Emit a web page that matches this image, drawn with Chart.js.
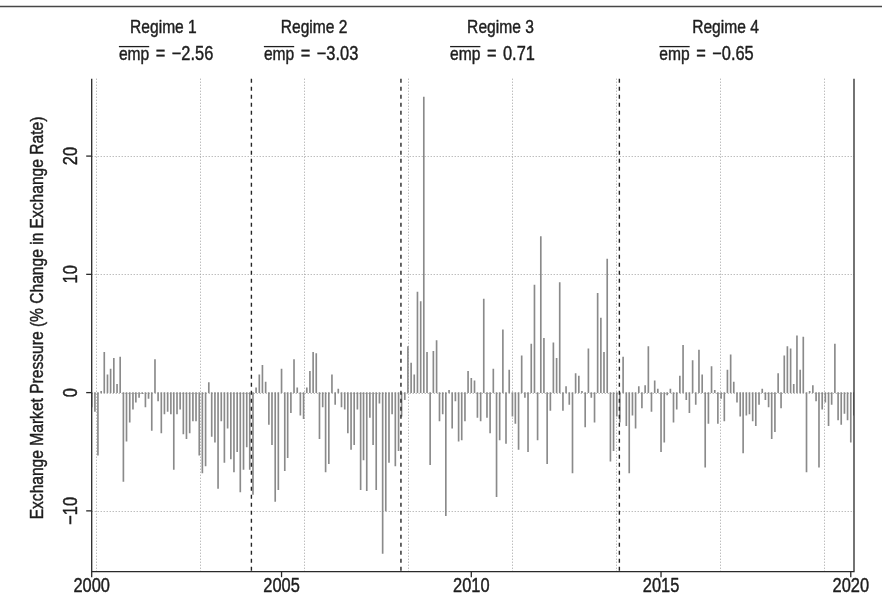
<!DOCTYPE html>
<html>
<head>
<meta charset="utf-8">
<title>Exchange Market Pressure</title>
<script src="https://cdn.jsdelivr.net/npm/chart.js@4.4.1/dist/chart.umd.min.js"></script>
<style>
  html, body { margin: 0; padding: 0; background: #ffffff; }
  canvas { display: block; }
</style>
</head>
<body>
<canvas id="emp" width="882" height="613"></canvas>
<script>
// ---- data -------------------------------------------------------------
// Monthly exchange market pressure (% change in exchange rate), Jan 2000 onward.
const firstMonth = [2000, 0];            // year, zero-based month

// Regime 1: Jan 2000 – Mar 2004
const empRegime1 = [
  -1.2, -1.6, -5.3, 0.1, 3.4, 1.5, 2.0, 2.9, 0.7, 3.0, -7.5,
  -4.1, -2.5, -1.4, -0.8, -0.4, -0.1, -1.2, -0.5, -3.2, 2.8,
  -0.7, -3.4, -1.8, -1.6, -1.8, -6.5, -1.8, -1.4, -3.5, -3.9,
  -3.4, -2.4, -2.4, -5.3, -6.8, -6.2, 0.85, -3.7, -4.2, -8.1,
  -2.4, -5.9, -3.0, -5.6, -6.7, -5.0, -8.4, -6.5, -4.6, -6.5
];
// Regime 2: Apr 2004 – Feb 2008
const empRegime2 = [
  -8.6, 0.4, 1.5, 2.3, 0.9, -2.7, -4.4, -9.2, -8.2, 2.0,
  -6.6, -5.5, -1.7, 2.8, 0.4, -1.9, -2.2, 0.4, 1.8, 3.4,
  3.3, -3.9, -1.2, -6.7, -6.0, 1.5, -1.0, 0.3, -1.2, -1.4,
  -3.4, -4.8, -4.4, -1.4, -8.2, -5.7, -8.3, -2.1, -4.4, -8.2,
  -0.9, -13.6, -10.0, -5.9, -1.8, -6.2, -4.9
];
// Regime 3: Mar 2008 – Nov 2013
const empRegime3 = [
  -2.0, -0.6, 3.9, 2.5, 1.5, 8.5, 7.7, 25.0, 3.4, -6.1,
  3.5, 4.4, -2.4, -1.8, -10.4, 0.2, -3.0, -0.7, -4.1, -4.0,
  -2.4, 1.8, 1.2, 1.0, -2.1, -2.4, 7.9, -2.1, -3.4, 2.0,
  -8.8, -4.0, 5.3, -4.3, 1.9, -2.0, -2.6, -4.8, 3.1, -0.4,
  -5.0, 4.1, 9.1, -4.0, 13.2, 4.6, -6.0, -1.5, 4.2, 2.9,
  9.3, -1.5, 0.5, -1.0, -6.8, 1.6, 1.4, 0.1, -2.9, 3.7,
  -0.4, -2.5, 8.4, 6.3, 3.4, 11.3, -5.8, -4.9, -2.0
];
// Regime 4: Dec 2013 – Feb 2020
const empRegime4 = [
  -2.5, 3.0, -2.8, -6.8, -1.9, -3.0, 0.5, -1.3, 0.6, 3.9,
  -1.6, 1.0, 0.3, -5.0, -4.2, -0.2, 0.3, -2.5, -1.4, 1.4,
  4.0, -0.6, -1.7, 2.7, -1.0, 3.6, 1.5, -6.3, -2.6, 2.2,
  0.2, -2.6, -0.5, -2.4, 1.9, 3.2, 0.9, -0.8, -2.0, -5.1,
  -1.9, -1.8, -2.4, -2.8, -1.0, 0.3, -0.6, -1.2, -3.9, -3.3,
  1.6, -1.3, 3.1, 3.9, 3.7, 0.7, 4.8, 1.9, 4.7, -6.7,
  0.1, 0.6, -0.7, -6.3, -1.4, -0.8, -2.8, -1.0, 4.1, -2.3,
  -2.7, -1.75, -2.3, -4.2, -1.9
];

const regimeNames = ['Regime 1', 'Regime 2', 'Regime 3', 'Regime 4'];
const regimeMeans = [-2.56, -3.03, 0.71, -0.65];
const regimeBreaks = ['2004-03-17', '2008-02-24', '2013-11-26'];

const yearTicks = [2000, 2005, 2010, 2015, 2020];
const valueTicks = [-10, 0, 10, 20];
// vertical reference grid, in days since 1970-01-01
const gridDays = [11000, 12000, 13000, 14000, 15000, 16000, 17000, 18000];

const yTitle = 'Exchange Market Pressure (% Change in Exchange Rate)';

// ---- helpers ----------------------------------------------------------
const MS_DAY = 86400000;
const dayOf = (y, m, d = 1) => Date.UTC(y, m, d) / MS_DAY;
const dayOfDate = s => Date.parse(s + 'T00:00:00Z') / MS_DAY;
const dayOfYear = yr => dayOf(2000, 0, 1) + (yr - 2000) * 365.25;

const empValues = [...empRegime1, ...empRegime2, ...empRegime3, ...empRegime4];
const empPoints = empValues.map((v, i) => ({ x: dayOf(firstMonth[0], firstMonth[1] + i), y: v }));

const vMin = Math.min(...empValues);
const vMax = Math.max(...empValues);
const vPad = 0.04 * (vMax - vMin);

// condensed face: use the narrow cut when present, otherwise squeeze the regular one
const probe = document.createElement('canvas').getContext('2d');
function hasFont(name) {
  const s = 'Regime 1 emp 2005 Exchange';
  probe.font = '40px monospace';
  const w0 = probe.measureText(s).width;
  probe.font = `40px "${name}", monospace`;
  return Math.abs(probe.measureText(s).width - w0) > 0.5;
}
const NARROW = hasFont('Liberation Sans Narrow');
const FACE = NARROW ? '"Liberation Sans Narrow", sans-serif' : '"Liberation Sans", Arial, sans-serif';
const SQUEEZE = NARROW ? 1 : 0.82;
const WORD_FONT = `19px ${FACE}`;
const NUM_FONT = `20px ${FACE}`;
const INK = '#1e1e1e';

// text with a hairline outline so the condensed face reads a little heavier
function drawText(ctx, str, px, py, align, rot, font) {
  ctx.save();
  ctx.translate(px, py);
  if (rot) ctx.rotate(rot);
  ctx.scale(SQUEEZE, 1);
  ctx.font = font || WORD_FONT;
  ctx.fillStyle = INK;
  ctx.strokeStyle = INK;
  ctx.lineWidth = 0.45;
  ctx.lineJoin = 'round';
  ctx.textAlign = align;
  ctx.textBaseline = 'alphabetic';
  ctx.fillText(str, 0, 0);
  ctx.strokeText(str, 0, 0);
  ctx.restore();
}
function textWidth(ctx, str, font) {
  ctx.save();
  ctx.font = font || WORD_FONT;
  const w = ctx.measureText(str).width * SQUEEZE;
  ctx.restore();
  return w;
}
function seg(ctx, x1, y1, x2, y2) {
  ctx.beginPath(); ctx.moveTo(x1, y1); ctx.lineTo(x2, y2); ctx.stroke();
}
const fmtMean = v => (v < 0 ? '\u2212' : '') + Math.abs(v).toFixed(2);
const fmtTick = v => (v < 0 ? '\u2212' : '') + Math.abs(v);

// label anchors (decimal years) for the regime headings
const headingAt = [2001.89, 2005.86, 2010.77, 2016.70];
const meanAt = [2001.96, 2005.78, 2010.56, 2016.20];
const EQ_GAP = 6.5;   // math spacing around "="

// ---- decorations: grid, regime breaks, axes, annotation -----------------
const decor = {
  id: 'decor',
  beforeDatasetsDraw(chart) {
    const { ctx, chartArea: a, scales: { x, y } } = chart;
    ctx.save();
    ctx.strokeStyle = '#a0a0a0';
    ctx.lineWidth = 1;
    ctx.setLineDash([1, 2]);
    valueTicks.forEach(v => {
      const py = Math.round(y.getPixelForValue(v)) + 0.5;
      seg(ctx, a.left, py, a.right, py);
    });
    gridDays.forEach(d => {
      const px = Math.round(x.getPixelForValue(d)) + 0.5;
      seg(ctx, px, a.top, px, a.bottom);
    });
    ctx.restore();
  },
  afterDatasetsDraw(chart) {
    const { ctx, chartArea: a, scales: { x, y } } = chart;
    ctx.save();

    // regime breaks
    ctx.strokeStyle = '#262626';
    ctx.lineWidth = 1.4;
    ctx.setLineDash([4, 4]);
    regimeBreaks.forEach(s => {
      const px = x.getPixelForValue(dayOfDate(s));
      seg(ctx, px, a.top, px, a.bottom);
    });
    ctx.setLineDash([]);

    // frame: left, bottom, right
    ctx.strokeStyle = '#2a2a2a';
    ctx.lineWidth = 1.3;
    ctx.beginPath();
    ctx.moveTo(a.left, a.top);
    ctx.lineTo(a.left, a.bottom);
    ctx.lineTo(a.right, a.bottom);
    ctx.lineTo(a.right, a.top);
    ctx.stroke();

    // x ticks and year labels
    yearTicks.forEach(yr => {
      const px = x.getPixelForValue(dayOf(yr, 0, 1));
      seg(ctx, px, a.bottom, px, a.bottom + 5.5);
      drawText(ctx, String(yr), px, a.bottom + 20.5, 'center', 0, NUM_FONT);
    });

    // y ticks and rotated labels
    valueTicks.forEach(v => {
      const py = y.getPixelForValue(v);
      ctx.strokeStyle = '#2a2a2a';
      ctx.lineWidth = 1.3;
      seg(ctx, a.left, py, a.left - 5.5, py);
      drawText(ctx, fmtTick(v), a.left - 14.5, py, 'center', -Math.PI / 2, NUM_FONT);
    });

    // y axis title
    drawText(ctx, yTitle, 43, 318, 'center', -Math.PI / 2);

    // regime headings and means (overlined "emp")
    regimeNames.forEach((name, i) => {
      drawText(ctx, name, x.getPixelForValue(dayOfYear(headingAt[i])), 33.3, 'center', 0);
      const val = fmtMean(regimeMeans[i]);
      const wEmp = textWidth(ctx, 'emp', WORD_FONT);
      const wEq = textWidth(ctx, '=', NUM_FONT);
      const wVal = textWidth(ctx, val, NUM_FONT);
      const total = wEmp + EQ_GAP + wEq + EQ_GAP + wVal;
      let left = x.getPixelForValue(dayOfYear(meanAt[i])) - total / 2;
      drawText(ctx, 'emp', left, 60, 'left', 0, WORD_FONT);
      ctx.strokeStyle = INK;
      ctx.lineWidth = 1.3;
      seg(ctx, left, 46.6, left + wEmp, 46.6);
      left += wEmp + EQ_GAP;
      drawText(ctx, '=', left, 60, 'left', 0, NUM_FONT);
      left += wEq + EQ_GAP;
      drawText(ctx, val, left, 60, 'left', 0, NUM_FONT);
    });

    // rule across the top of the figure
    ctx.strokeStyle = '#474747';
    ctx.lineWidth = 1.3;
    seg(ctx, 0, 6.5, chart.width, 6.5);

    ctx.restore();
  }
};

// ---- chart ------------------------------------------------------------
new Chart(document.getElementById('emp'), {
  type: 'bar',
  data: {
    datasets: [{
      data: empPoints,
      backgroundColor: '#8a8a8a',
      borderWidth: 0,
      barThickness: 1,
      grouped: false
    }]
  },
  options: {
    responsive: false,
    animation: false,
    devicePixelRatio: 1,
    layout: { padding: { left: 91.7, right: 28, top: 78.7, bottom: 41.3 } },
    plugins: { legend: { display: false }, tooltip: { enabled: false } },
    scales: {
      x: {
        type: 'linear',
        min: empPoints[0].x,
        max: empPoints[empPoints.length - 1].x,
        offset: false,
        display: false
      },
      y: {
        type: 'linear',
        min: vMin - vPad,
        max: vMax + vPad,
        display: false
      }
    }
  },
  plugins: [decor]
});
</script>
</body>
</html>
